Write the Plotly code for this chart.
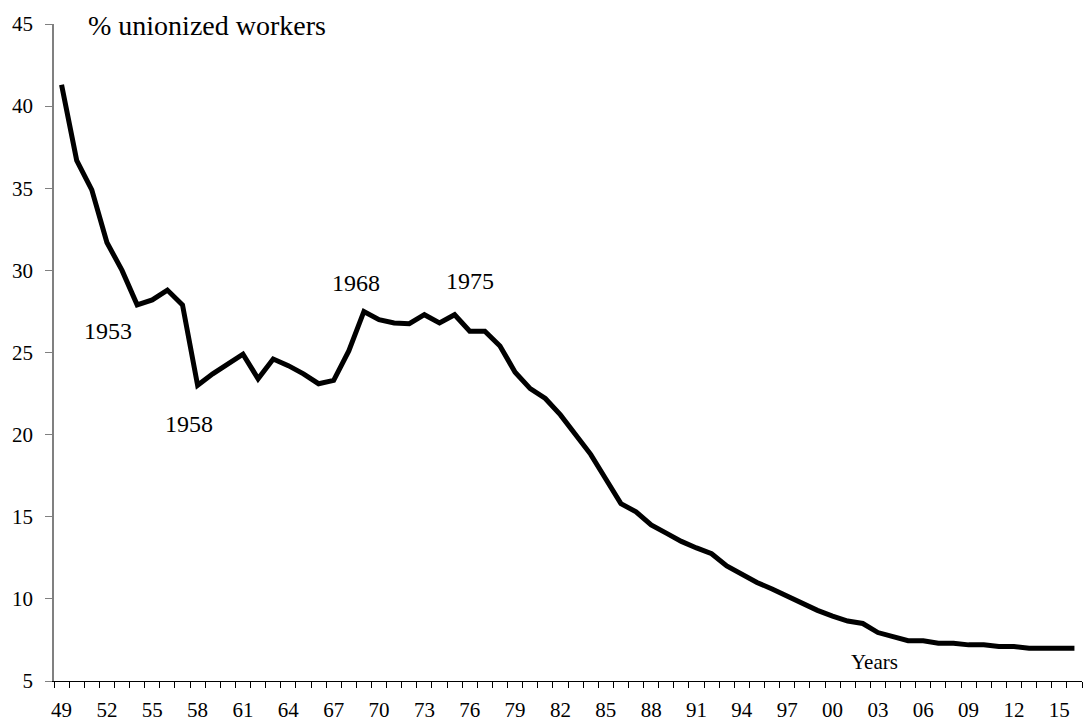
import plotly.graph_objects as go

years = [1949, 1950, 1951, 1952, 1953, 1954, 1955, 1956, 1957, 1958,
         1959, 1960, 1961, 1962, 1963, 1964, 1965, 1966, 1967, 1968,
         1969, 1970, 1971, 1972, 1973, 1974, 1975, 1976, 1977, 1978,
         1979, 1980, 1981, 1982, 1983, 1984, 1985, 1986, 1987, 1988,
         1989, 1990, 1991, 1992, 1993, 1994, 1995, 1996, 1997, 1998,
         1999, 2000, 2001, 2002, 2003, 2004, 2005, 2006, 2007, 2008,
         2009, 2010, 2011, 2012, 2013, 2014, 2015, 2016]

union_pct = [41.3, 36.7, 34.9, 31.7, 30.0, 27.9, 28.2, 28.8, 27.9, 23.0,
             23.7, 24.3, 24.9, 23.4, 24.6, 24.2, 23.7, 23.1, 23.3, 25.1,
             27.5, 27.0, 26.8, 26.75, 27.3, 26.8, 27.3, 26.3, 26.3, 25.4,
             23.8, 22.8, 22.2, 21.2, 20.0, 18.8, 17.3, 15.8, 15.3, 14.5,
             14.0, 13.5, 13.1, 12.75, 12.0, 11.5, 11.0, 10.6, 10.15, 9.7,
             9.3, 8.95, 8.65, 8.5, 7.95, 7.7, 7.45, 7.45, 7.3, 7.3,
             7.2, 7.2, 7.1, 7.1, 7.0, 7.0, 7.0, 7.0]

x_tick_vals = [1949, 1952, 1955, 1958, 1961, 1964, 1967, 1970, 1973, 1976,
               1979, 1982, 1985, 1988, 1991, 1994, 1997, 2000, 2003, 2006,
               2009, 2012, 2015]
x_tick_text = ["49", "52", "55", "58", "61", "64", "67", "70", "73", "76",
               "79", "82", "85", "88", "91", "94", "97", "00", "03", "06",
               "09", "12", "15"]
y_tick_vals = [5, 10, 15, 20, 25, 30, 35, 40, 45]

annot_text = ["1953", "1958", "1968", "1975"]
annot_x = [1952.05, 1957.4, 1968.5, 1976.05]
annot_y = [26.3, 20.65, 29.25, 29.37]

FONT = "Liberation Serif"

fig = go.Figure()
fig.add_trace(go.Scatter(
    x=years, y=union_pct, mode="lines",
    line=dict(color="black", width=5),
    hoverinfo="x+y", showlegend=False,
))

for t, ax_, ay_ in zip(annot_text, annot_x, annot_y):
    fig.add_annotation(x=ax_, y=ay_, xref="x", yref="y", text=t,
                       showarrow=False, font=dict(family=FONT, size=24, color="black"),
                       xanchor="center", yanchor="middle")

fig.add_annotation(x=2002.8, y=6.17, xref="x", yref="y", text="Years",
                   showarrow=False, font=dict(family=FONT, size=21, color="black"),
                   xanchor="center", yanchor="middle")
fig.add_annotation(x=1958.6, y=44.9, xref="x", yref="y", text="% unionized workers",
                   showarrow=False, font=dict(family=FONT, size=28, color="black"),
                   xanchor="center", yanchor="middle")

fig.update_layout(
    width=1086, height=722,
    margin=dict(l=54, r=4, t=24, b=41, autoexpand=False),
    paper_bgcolor="white", plot_bgcolor="white",
    font=dict(family=FONT, color="black"),
    xaxis=dict(
        range=[1948.5, 2016.5], showgrid=False, zeroline=False, automargin=False,
        showline=True, linecolor="black", linewidth=1,
        tickmode="array", tickvals=x_tick_vals, ticktext=x_tick_text,
        ticks="", ticklabelstandoff=10,
        tickfont=dict(family=FONT, size=21, color="black"),
        minor=dict(ticks="outside", tickmode="linear", tick0=1948.5, dtick=1,
                   ticklen=6, tickwidth=1, tickcolor="black", showgrid=False),
    ),
    yaxis=dict(
        range=[5, 45], showgrid=False, zeroline=False, automargin=False,
        showline=True, linecolor="#808080", linewidth=1.5,
        tickmode="array", tickvals=y_tick_vals,
        ticks="outside", ticklen=7, tickcolor="#808080", tickwidth=1,
        ticklabelstandoff=8,
        tickfont=dict(family=FONT, size=21, color="black"),
    ),
)

fig.write_html(
    "out.html",
    config={"displayModeBar": False},
    post_script="document.body.style.margin='0';document.body.style.overflow='hidden';",
)
